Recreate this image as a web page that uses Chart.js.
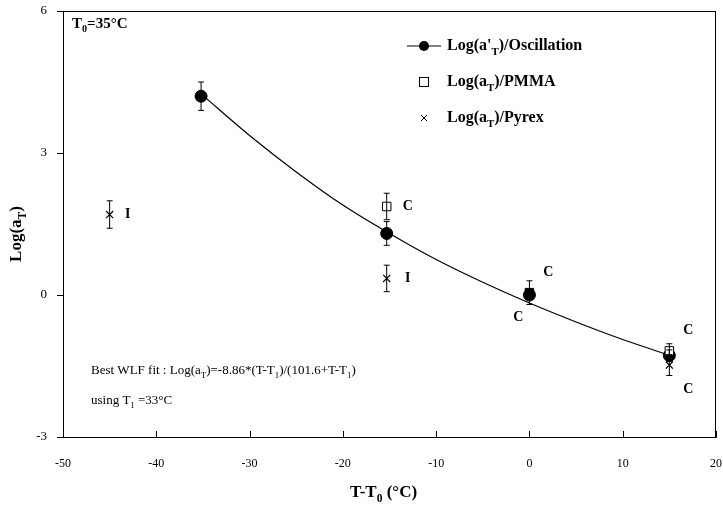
<!DOCTYPE html>
<html>
<head>
<meta charset="utf-8">
<script src="https://cdn.jsdelivr.net/npm/chart.js@4.4.0/dist/chart.umd.min.js"></script>
<style>
  html, body { margin: 0; padding: 0; background: #fff; }
  #wrap { width: 723px; height: 511px; }
</style>
</head>
<body>
<div id="wrap"><canvas id="myChart" width="723" height="511"></canvas></div>
<script>
// data
const oscX = [-35.2, -15.3, 0, 15];
const oscY = [4.2, 1.3, 0.0, -1.28];
const oscErr = [0.3, 0.25, 0.1, 0.12];

const pmmaX = [-15.3, 0, 15];
const pmmaY = [1.87, 0.05, -1.18];
const pmmaErr = [0.28, 0.25, 0.15];
const pmmaFill = ['#fff', '#000', '#fff'];

const pyrexX = [-45, -15.3, 15];
const pyrexY = [1.7, 0.35, -1.48];
const pyrexErr = [0.29, 0.28, 0.22];

// WLF fit curve
const fitX = [-35.2, -30, -25, -20, -15, -10, -5, 0, 5, 10, 15];
const fitY = [4.25, 3.37, 2.6, 1.9, 1.3, 0.75, 0.27, -0.17, -0.57, -0.94, -1.27];

const xTicks = [-50, -40, -30, -20, -10, 0, 10, 20];
const yTicks = [-3, 0, 3, 6];

// point labels: [x, y, text, dx, dy]
const pointNotes = [
  [-45, 1.7, 'I', 18, 0],
  [-15.3, 1.87, 'C', 21, 0],
  [-15.3, 0.35, 'I', 21, 0],
  [0, 0.05, 'C', 19, -20],
  [0, 0.05, 'C', -11, 25],
  [15, -1.18, 'C', 19, -20],
  [15, -1.48, 'C', 19, 24],
];

const serif = '"Liberation Serif", "Times New Roman", serif';

function pts(xs, ys) {
  return xs.map((x, i) => ({ x: x, y: ys[i] }));
}

// text with subscripts: parts = [[text, isSub], ...]
function richWidth(ctx, parts, size, bold) {
  let w = 0;
  parts.forEach(p => {
    ctx.font = (bold ? 'bold ' : '') + (p[1] ? size * 0.68 : size) + 'px ' + serif;
    w += ctx.measureText(p[0]).width;
  });
  return w;
}
function drawRich(ctx, x, y, parts, size, bold) {
  ctx.textBaseline = 'middle';
  ctx.textAlign = 'left';
  parts.forEach(p => {
    ctx.font = (bold ? 'bold ' : '') + (p[1] ? size * 0.68 : size) + 'px ' + serif;
    ctx.fillText(p[0], x, p[1] ? y + size * 0.38 : y);
    x += ctx.measureText(p[0]).width;
  });
}

const extras = {
  id: 'extras',
  afterDatasetsDraw(chart) {
    const ctx = chart.ctx;
    const xs = chart.scales.x, ys = chart.scales.y;
    const a = chart.chartArea;
    ctx.save();
    ctx.fillStyle = '#000';
    ctx.strokeStyle = '#000';

    // frame
    ctx.lineWidth = 1;
    ctx.strokeRect(a.left + 0.5, a.top + 0.5, a.right - a.left - 1, a.bottom - a.top);

    // x ticks pointing inward
    xTicks.forEach(v => {
      const px = Math.round(xs.getPixelForValue(v)) + 0.5;
      ctx.beginPath();
      ctx.moveTo(px, a.bottom);
      ctx.lineTo(px, a.bottom - 6);
      ctx.stroke();
    });

    // error bars
    function errBars(X, Y, E) {
      X.forEach((x, i) => {
        const px = xs.getPixelForValue(x);
        const top = ys.getPixelForValue(Y[i] + E[i]);
        const bot = ys.getPixelForValue(Y[i] - E[i]);
        ctx.beginPath();
        ctx.moveTo(px, top); ctx.lineTo(px, bot);
        ctx.moveTo(px - 3, top); ctx.lineTo(px + 3, top);
        ctx.moveTo(px - 3, bot); ctx.lineTo(px + 3, bot);
        ctx.stroke();
      });
    }
    errBars(oscX, oscY, oscErr);
    errBars(pmmaX, pmmaY, pmmaErr);
    errBars(pyrexX, pyrexY, pyrexErr);

    // point notes
    ctx.font = 'bold 14px ' + serif;
    ctx.textAlign = 'center';
    ctx.textBaseline = 'middle';
    pointNotes.forEach(n => {
      ctx.fillText(n[2], xs.getPixelForValue(n[0]) + n[3], ys.getPixelForValue(n[1]) + n[4]);
    });

    // T0 note
    drawRich(ctx, 72, 24, [['T', 0], ['0', 1], ['=35°C', 0]], 15, true);

    // fit text
    drawRich(ctx, 91, 371, [['Best WLF fit : Log(a', 0], ['T', 1], [')=-8.86*(T-T', 0], ['1', 1],
      [')/(101.6+T-T', 0], ['1', 1], [')', 0]], 13, false);
    drawRich(ctx, 91, 401, [['using T', 0], ['1', 1], [' =33°C', 0]], 13, false);

    // legend
    const lx = 424, tx = 447;
    ctx.lineWidth = 1;
    ctx.beginPath();
    ctx.moveTo(407, 46); ctx.lineTo(441, 46); ctx.stroke();
    ctx.beginPath(); ctx.arc(lx, 46, 5, 0, Math.PI * 2); ctx.fill();
    drawRich(ctx, tx, 46, [["Log(a'", 0], ['T', 1], [')/Oscillation', 0]], 16, true);

    ctx.fillStyle = '#fff';
    ctx.fillRect(lx - 5, 77, 10, 10);
    ctx.strokeRect(lx - 4.5, 77.5, 9, 9);
    ctx.fillStyle = '#000';
    drawRich(ctx, tx, 82, [['Log(a', 0], ['T', 1], [')/PMMA', 0]], 16, true);

    ctx.beginPath();
    ctx.moveTo(lx - 3, 115); ctx.lineTo(lx + 3, 121);
    ctx.moveTo(lx + 3, 115); ctx.lineTo(lx - 3, 121);
    ctx.stroke();
    drawRich(ctx, tx, 118, [['Log(a', 0], ['T', 1], [')/Pyrex', 0]], 16, true);

    // axis titles
    const xt = [['T-T', 0], ['0', 1], [' (°C)', 0]];
    const xw = richWidth(ctx, xt, 17, true);
    drawRich(ctx, (a.left + a.right) / 2 - xw / 2 - 6, 493, xt, 17, true);

    const yt = [['Log(a', 0], ['T', 1], [')', 0]];
    const yw = richWidth(ctx, yt, 17, true);
    ctx.translate(17, (a.top + a.bottom) / 2 + 10);
    ctx.rotate(-Math.PI / 2);
    drawRich(ctx, -yw / 2, 0, yt, 17, true);
    ctx.restore();
  }
};

const ctx = document.getElementById('myChart').getContext('2d');
new Chart(ctx, {
  type: 'scatter',
  data: {
    datasets: [
      {
        label: 'fit',
        data: pts(fitX, fitY),
        showLine: true,
        borderColor: '#000',
        borderWidth: 1.2,
        pointRadius: 0,
        tension: 0.4,
        order: 3
      },
      {
        label: 'Oscillation',
        data: pts(oscX, oscY),
        pointStyle: 'circle',
        pointRadius: 6,
        backgroundColor: '#000',
        borderColor: '#000',
        order: 1
      },
      {
        label: 'PMMA',
        data: pts(pmmaX, pmmaY),
        pointStyle: 'rect',
        pointRadius: 6,
        backgroundColor: pmmaFill,
        borderColor: '#000',
        borderWidth: 1,
        order: 0
      },
      {
        label: 'Pyrex',
        data: pts(pyrexX, pyrexY),
        pointStyle: 'cross',
        rotation: 45,
        pointRadius: 5,
        borderColor: '#000',
        borderWidth: 1.2,
        order: 0
      }
    ]
  },
  plugins: [extras],
  options: {
    responsive: false,
    animation: false,
    layout: { padding: { top: 11, right: 3, left: 0, bottom: 0 } },
    plugins: { legend: { display: false }, tooltip: { enabled: false } },
    scales: {
      x: {
        type: 'linear',
        min: -50, max: 20,
        afterFit: s => { s.height = 74; s.paddingLeft = 0; s.paddingRight = 0; },
        afterBuildTicks: s => { s.ticks = xTicks.map(v => ({ value: v })); },
        grid: { display: true, drawOnChartArea: false, drawTicks: false },
        border: { color: '#000' },
        ticks: { color: '#000', padding: 20, font: { family: serif, size: 12 } }
      },
      y: {
        type: 'linear',
        min: -3, max: 6,
        afterFit: s => { s.width = 63; s.paddingTop = 0; s.paddingBottom = 0; },
        afterBuildTicks: s => { s.ticks = yTicks.map(v => ({ value: v })); },
        grid: { display: true, drawOnChartArea: false, tickLength: 6, color: '#000' },
        border: { color: '#000' },
        ticks: { color: '#000', padding: 10, font: { family: serif, size: 13 } }
      }
    }
  }
});
</script>
</body>
</html>
